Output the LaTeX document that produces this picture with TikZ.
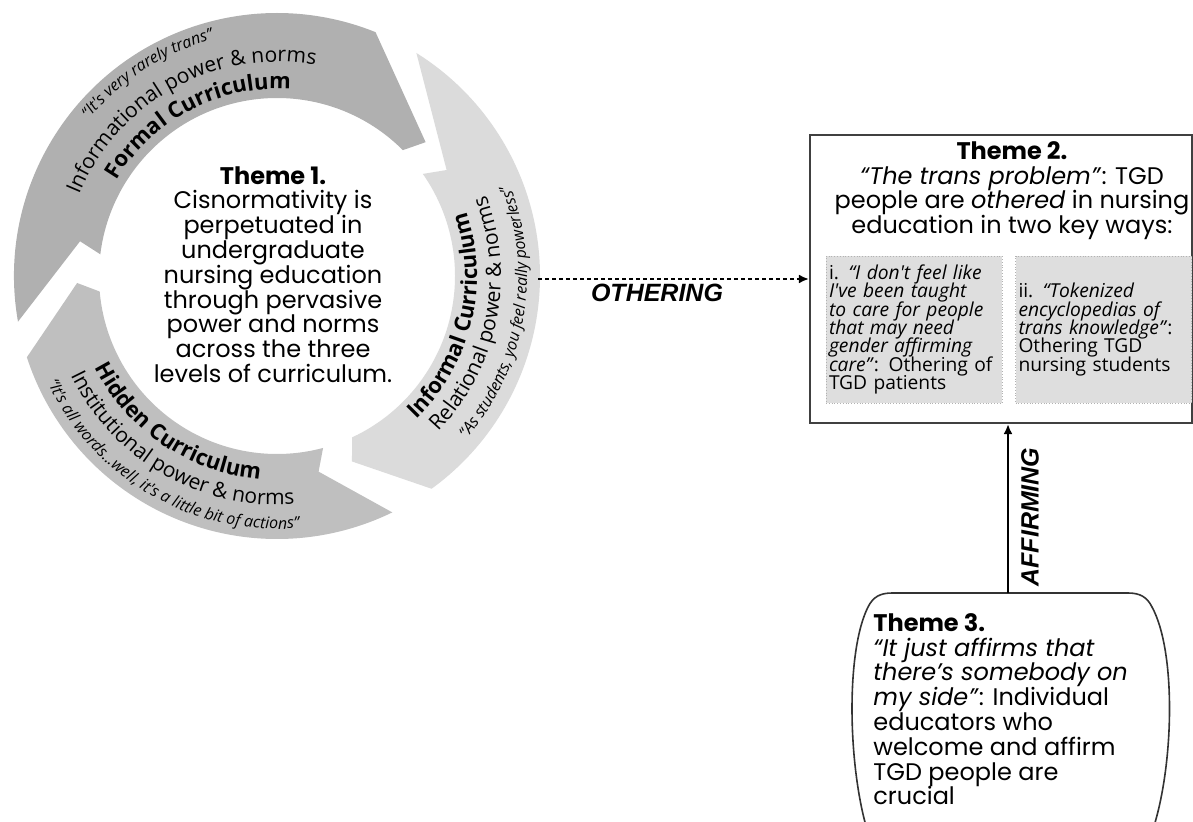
\documentclass[tikz,border=0pt]{standalone}
\usepackage{fontspec}
\setmainfont{Poppins}
\newfontfamily\arcfont{Open Sans}
\newfontfamily\tagfont{Liberation Sans}
\usetikzlibrary{arrows.meta}

\definecolor{formalfill}{gray}{0.69}
\definecolor{informalfill}{gray}{0.86}
\definecolor{hiddenfill}{gray}{0.75}
\definecolor{waysfill}{gray}{0.87}

\newcommand\ringout{263}
\newcommand\ringin{178}
\newcommand\ringmid{200}
\newcommand\ftitle{\arcfont\bfseries\fontsize{11}{13}\selectfont}
\newcommand\fpower{\arcfont\fontsize{10.5}{12}\selectfont}
\newcommand\fquote{\arcfont\itshape\fontsize{8}{10}\selectfont}
\newcommand\themefont{\fontsize{12}{12.4}\selectfont\lineskiplimit=-20pt\relax}
\newcommand\waysfont{\arcfont\fontsize{9.6}{9.15}\selectfont\lineskiplimit=-20pt\relax}

% one curved arrow of the cycle: colour, tail angle, tail slant, head angle, head slant
\newcommand\ringarrow[5]{%
  \fill[#1] (#2:\ringout) arc[start angle=#2, end angle=#4, radius=\ringout]
    -- ({#4-#5}:\ringmid) -- ({#4-#5+3}:\ringin)
    arc[start angle={#4-#5+3}, end angle={#2-#3+3}, radius=\ringin]
    -- ({#2-#3}:\ringmid) -- cycle;}
% text set letter by letter round the ring: radius, middle angle, 1 = cw / -1 = ccw, font, text (~ for spaces)
\makeatletter
\def\rtStop{rt-stop}
\newcommand\rtMeasure[1]{%
  \setbox0\hbox{\pgfinterruptpicture#1\endpgfinterruptpicture}\edef\rtW{\strip@pt\wd0}}
\newcommand\ringtext[5]{%
  \def\rtFont{#4}\def\rtDir{#3}\def\rtRad{#1}%
  \pgfmathsetmacro\rtR{#1*0.5}%
  \rtMeasure{#4#5}%
  \pgfmathsetmacro\rtAng{#2+(#3)*deg(\rtW/2/\rtR)}%
  \rtNext#5\rtStop}
\newcommand\rtNext[1]{%
  \ifx#1\rtStop\else
    \rtMeasure{\rtFont#1}%
    \pgfmathsetmacro\rtMid{\rtAng-(\rtDir)*deg(\rtW/2/\rtR)}%
    \node[inner sep=0pt, anchor=base, rotate={\rtMid-(\rtDir)*90}] at (\rtMid:\rtRad) {\rtFont#1};%
    \pgfmathsetmacro\rtAng{\rtAng-(\rtDir)*deg(\rtW/\rtR)}%
    \expandafter\rtNext
  \fi}
\makeatother

\begin{document}
\begin{tikzpicture}[x=0.5pt, y=0.5pt,
    themetext/.style={font=\themefont, inner sep=0pt},
    waysbox/.style={fill=waysfill, draw=gray!60, densely dotted, line width=0.4pt,
      minimum height=73.5pt, text width=85pt, inner xsep=1.5pt, align=left, font=\waysfont},
    tagtext/.style={font=\tagfont\bfseries\itshape\fontsize{12.5}{14}\selectfont, inner sep=0pt}]
\useasboundingbox (0,0) rectangle (1193,821);
\clip (0,0) rectangle (1193,821);

% theme 1: the three levels of curriculum
\begin{scope}[shift={(277,545)}]
  \ringarrow{formalfill}{190}{20}{68}{26}
  \ringarrow{informalfill}{58}{26}{-54}{14}
  \ringarrow{hiddenfill}{-64}{14}{-162}{16}
  \ringtext{187}{117.5}{1}{\ftitle}{Formal~Curriculum}
  \ringtext{214}{118.7}{1}{\fpower}{Informational~power~\&~norms}
  \ringtext{245}{122.6}{1}{\fquote}{“It's~very~rarely~trans”}
  \ringtext{200}{-13.6}{-1}{\ftitle}{Informal~Curriculum}
  \ringtext{224}{-11.5}{-1}{\fpower}{Relational~power~\&~norms}
  \ringtext{250}{-9.7}{-1}{\fquote}{“As~students,~you~feel~really~powerless”}
  \ringtext{204}{236}{-1}{\ftitle}{Hidden~Curriculum}
  \ringtext{229}{240}{-1}{\fpower}{Institutional~power~\&~norms}
  \ringtext{253}{240}{-1}{\fquote}{“It's~all~words...well,~it's~a~little~bit~of~actions”}
\end{scope}
\node[themetext, align=center, anchor=north] (t1) at (273,655) {\textbf{Theme 1.}\\Cisnormativity is\\perpetuated in\\undergraduate\\nursing education\\through pervasive\\power and norms\\across the three\\levels of curriculum.};
\coordinate (ringE) at (538,542);

% theme 2
\node[draw=black!75, line width=1.1pt, fill=white, minimum width=191pt, minimum height=144pt] (t2) at (1001,542) {};
\node[themetext, align=center, anchor=north] (t2head) at (1012,680) {\textbf{Theme 2.}\\\textit{“The trans problem”}: TGD\\people are \textit{othered} in nursing\\education in two key ways:};
\node[waysbox] (w1) at (914,491.5) {i. \textit{“I don't feel like}\\\textit{I've been taught}\\\textit{to care for people}\\\textit{that may need}\\\textit{gender affirming}\\\textit{care”}: Othering of\\TGD patients};
\node[waysbox] (w2) at (1103.5,491.5) {ii. \textit{“Tokenized}\\\textit{encyclopedias of}\\\textit{trans knowledge”}:\\Othering TGD\\nursing students};

% theme 3
\draw[black!80, line width=0.8pt, fill=white] (866,-5) .. controls (848,60) and (846,170) .. (868,214) .. controls (873,224) and (880,228) .. (892,228) -- (1128,228) .. controls (1140,228) and (1147,224) .. (1152,214) .. controls (1176,170) and (1174,60) .. (1154,-5);
\coordinate (t3top) at (1008,228);
\node[themetext, align=left, anchor=north west] (t3) at (873,208) {\textbf{Theme 3.}\\\textit{“It just affirms that}\\\textit{there's somebody on}\\\textit{my side”}: Individual\\educators who\\welcome and affirm\\TGD people are\\crucial};

% links
\draw[line width=1.1pt, dash pattern=on 2.2pt off 1.3pt, -{Latex[length=5pt,width=4.5pt]}] (ringE) -- (t2.west);
\draw[line width=1.1pt, -{Latex[length=5pt,width=4.5pt]}] (t3top) -- (t3top |- t2.south);
\node[tagtext] (lblO) at (657,528) {OTHERING};
\node[tagtext, rotate=90] (lblA) at (1030,304) {AFFIRMING};
\end{tikzpicture}
\end{document}
